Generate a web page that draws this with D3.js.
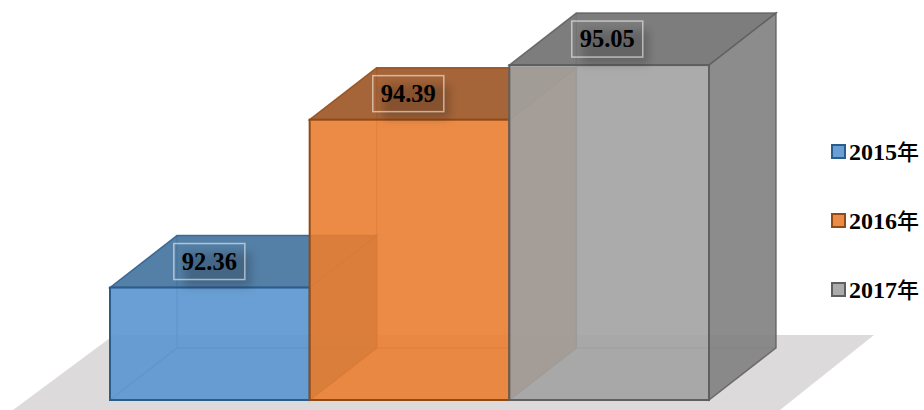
<!DOCTYPE html>
<html>

<head>
  <meta charset="utf-8">
  <script src="https://d3js.org/d3.v7.min.js"></script>
  <style>
    body {
      margin: 0;
      background: #fff;
    }

    svg {
      display: block;
    }

    text {
      font-family: "Liberation Serif", serif;
      font-weight: bold;
      fill: #000;
    }

    .cjk {
      font-family: "Noto Sans CJK SC", sans-serif;
      font-size: 22px;
      font-weight: 500;
    }
  </style>
</head>

<body>
  <script>
    const years = ["2015年", "2016年", "2017年"];
    const values = [92.36, 94.39, 95.05];
    const frontColors = ["#5995cf", "#ea7e31", "#a2a2a2"];
    const topColors = ["#41719c", "#9c5423", "#6f6f6f"];
    const sideColors = ["#41719c", "#b5652c", "#828282"];
    const edgeColors = ["#2a5c8c", "#8f4a16", "#5f5f5f"];

    const width = 924;
    const height = 410;
    const depthX = 67;
    const depthY = 52;

    const svg = d3.select("body")
      .append("svg")
      .attr("width", width)
      .attr("height", height);

    const defs = svg.append("defs");
    defs.append("filter")
      .attr("id", "soft")
      .attr("x", "-30%")
      .attr("y", "-50%")
      .attr("width", "160%")
      .attr("height", "200%")
      .append("feGaussianBlur")
      .attr("stdDeviation", 5);

    const x = d3.scaleBand()
      .domain(years)
      .range([110, 709]);

    // the value axis is hidden, it starts at 91
    const y = d3.scaleLinear()
      .domain([91, 96])
      .range([400, -13.5]);

    const base = y(91);

    // floor under the boxes
    const floorPts = [
      [x.range()[0] + 4, base - 65],
      [x.range()[1] + 165, base - 65],
      [x.range()[1] + 71, height],
      [x.range()[0] - 97, height]
    ];
    svg.append("polygon")
      .attr("points", floorPts.join(" "))
      .attr("fill", "#dcdadb");

    const pts = list => list.map(p => p.join(",")).join(" ");

    const bars = svg.selectAll("g.bar")
      .data(years)
      .enter()
      .append("g")
      .attr("class", "bar")
      .each(function (year, i) {
        const g = d3.select(this);
        const x0 = x(year);
        const x1 = x0 + x.bandwidth();
        const yt = y(values[i]);

        // faint inner edges first
        g.append("path")
          .attr("d", "M" + x0 + "," + base + "L" + (x0 + depthX) + "," + (base - depthY)
            + "L" + (x1 + depthX) + "," + (base - depthY)
            + "M" + (x0 + depthX) + "," + (base - depthY) + "L" + (x0 + depthX) + "," + (yt - depthY))
          .attr("fill", "none")
          .attr("stroke", edgeColors[i])
          .attr("stroke-width", 1.5)
          .attr("stroke-opacity", 0.5);

        // top face
        g.append("polygon")
          .attr("points", pts([[x0, yt], [x0 + depthX, yt - depthY], [x1 + depthX, yt - depthY], [x1, yt]]))
          .attr("fill", topColors[i])
          .attr("fill-opacity", 0.9)
          .attr("stroke", edgeColors[i])
          .attr("stroke-opacity", 0.85)
          .attr("stroke-width", 1.5);

        // right face
        g.append("polygon")
          .attr("points", pts([[x1, yt], [x1 + depthX, yt - depthY], [x1 + depthX, base - depthY], [x1, base]]))
          .attr("fill", sideColors[i])
          .attr("fill-opacity", 0.92)
          .attr("stroke", edgeColors[i])
          .attr("stroke-opacity", 0.85)
          .attr("stroke-width", 1.5);

        // front face
        g.append("rect")
          .attr("x", x0)
          .attr("y", yt)
          .attr("width", x.bandwidth())
          .attr("height", base - yt)
          .attr("fill", frontColors[i])
          .attr("fill-opacity", 0.9)
          .attr("stroke", edgeColors[i])
          .attr("stroke-width", 2);
      });

    // value labels sit on the top face
    const boxW = 71;
    const boxH = 36;
    const labels = svg.selectAll("g.label")
      .data(values)
      .enter()
      .append("g")
      .attr("class", "label")
      .attr("transform", (d, i) => "translate(" + (x(years[i]) + x.bandwidth() / 2 - 0.5 - i * 0.7) + "," + (y(d) - 26) + ")");

    labels.append("rect")
      .attr("x", -boxW / 2 + 10)
      .attr("y", -boxH / 2 + 9)
      .attr("width", boxW - 4)
      .attr("height", boxH - 2)
      .attr("fill", "#000")
      .attr("fill-opacity", 0.2)
      .attr("filter", "url(#soft)");

    labels.append("rect")
      .attr("x", -boxW / 2)
      .attr("y", -boxH / 2)
      .attr("width", boxW)
      .attr("height", boxH)
      .attr("fill", "none")
      .attr("stroke", "#fff")
      .attr("stroke-opacity", 0.55)
      .attr("stroke-width", 1.5);

    labels.append("text")
      .attr("text-anchor", "middle")
      .attr("y", 8)
      .attr("font-size", 24.5)
      .text(d => d3.format(".2f")(d));

    // legend
    const legendY = d3.scalePoint()
      .domain(years)
      .range([151.5, 289.5]);

    const legend = svg.selectAll("g.legend")
      .data(years)
      .enter()
      .append("g")
      .attr("class", "legend")
      .attr("transform", d => "translate(832," + legendY(d) + ")");

    legend.append("rect")
      .attr("x", 0)
      .attr("y", -6.5)
      .attr("width", 13)
      .attr("height", 13)
      .attr("fill", (d, i) => frontColors[i])
      .attr("fill-opacity", 0.9)
      .attr("stroke", (d, i) => edgeColors[i])
      .attr("stroke-width", 2);

    const legendText = legend.append("text")
      .attr("x", 17)
      .attr("y", 8.5)
      .attr("font-size", 24);

    legendText.append("tspan")
      .text(d => d.slice(0, 4));
    legendText.append("tspan")
      .attr("class", "cjk")
      .text(d => d.slice(4));
  </script>
</body>

</html>
